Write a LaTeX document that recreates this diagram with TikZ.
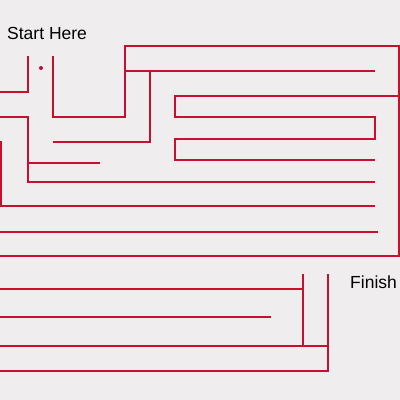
\documentclass[tikz,border=0pt]{standalone}
\usepackage{fontspec}
\setmainfont{Liberation Sans}
\definecolor{bg}{HTML}{EFEDED}
\definecolor{mazered}{HTML}{C8102E}
\begin{document}
\begin{tikzpicture}[x=1pt,y=-1pt,
  wall/.style={draw=mazered,line width=1.9pt,line join=miter,line cap=butt},
  label/.style={anchor=base west,inner sep=0pt,font=\fontsize{17.5}{20}\selectfont,text=black}]
\fill[bg] (0,0) rectangle (400,400);
\useasboundingbox (0,0) rectangle (400,400);
\node[label] (start) at (7,39) {Start Here};
\node[label] (finish) at (350,288) {Finish};
\fill[mazered] (41,68) circle (2);
\draw[wall] (28,56)--(28,92)--(0,92);
\draw[wall] (53,56)--(53,117)--(125,117)--(125,46)--(399,46)--(399,256)--(0,256);
\draw[wall] (125,71)--(375,71);
\draw[wall] (150,71)--(150,142)--(53,142);
\draw[wall] (399,96)--(175,96)--(175,117)--(375,117)--(375,139)--(175,139)--(175,160)--(375,160);
\draw[wall] (0,117)--(28,117)--(28,182)--(375,182);
\draw[wall] (28,163)--(100,163);
\draw[wall] (1,141)--(1,206)--(375,206);
\draw[wall] (0,232)--(378,232);
\draw[wall] (0,289)--(303,289);
\draw[wall] (303,274)--(303,346);
\draw[wall] (0,317)--(271,317);
\draw[wall] (0,346)--(328,346);
\draw[wall] (328,274)--(328,371)--(0,371);
\end{tikzpicture}
\end{document}
